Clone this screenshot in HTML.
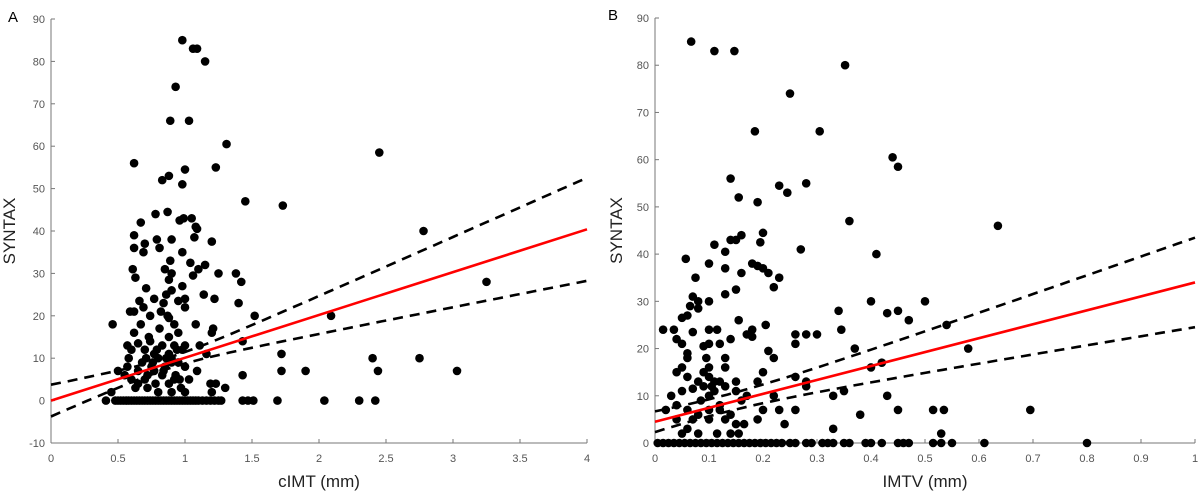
<!DOCTYPE html>
<html><head><meta charset="utf-8"><style>
html,body{margin:0;padding:0;background:#fff;}
svg{display:block;font-family:"Liberation Sans",sans-serif;}
</style></head><body>
<svg id="chart" width="1200" height="494" viewBox="0 0 1200 494" xmlns="http://www.w3.org/2000/svg">
<text x="8" y="22" font-size="15" fill="#000">A</text>
<text x="608" y="20" font-size="15" fill="#000">B</text>
</svg>
<script>
// Panel A data
const aX = [0.98,1.06,1.09,1.15,0.93,0.89,1.03,1.31,2.45,0.62,1.23,1.0,0.88,0.83,0.98,1.45,1.73,0.78,0.87,0.67,0.96,0.99,1.05,1.08,1.09,2.78,0.62,1.07,0.79,1.2,0.7,0.9,0.62,0.81,0.69,0.98,1.04,1.15,0.89,0.61,0.85,0.9,1.1,1.25,1.38,0.63,1.06,0.88,1.42,3.25,0.98,0.71,0.9,0.86,1.14,0.77,0.95,1.22,0.66,0.84,1.0,1.4,0.69,1.0,0.59,0.62,0.82,0.74,1.52,2.09,0.88,0.67,0.46,0.92,1.08,1.21,1.2,0.62,0.88,0.95,1.43,0.73,0.57,0.65,0.83,0.92,1.0,1.11,0.6,0.7,0.77,0.88,0.98,1.72,1.16,0.58,0.8,0.9,2.4,2.75,0.68,0.95,0.57,0.75,0.85,1.0,0.5,0.65,0.77,1.09,1.72,1.9,2.44,3.03,0.55,0.72,0.83,1.43,0.6,0.7,0.92,1.03,0.65,0.78,0.88,1.19,1.23,0.45,0.63,0.72,0.8,0.9,1.0,1.3,1.2,0.74,0.86,0.94,0.76,0.84,0.93,0.97,0.81,0.87,0.71,0.79,0.9,0.96];
const aY = [85,83,83,80,74,66,66,60.5,58.5,56,55,54.5,53,52,51,47,46,44,44.5,42,42.5,43,43,41,40.5,40,39,38.5,38,37.5,37,38,36,36,35,35,32.5,32,33,31,31,30,31,30,30,29,29.5,28.5,28,28,27,26.5,26,25,25,24,23.5,24,23.5,23,24,23,22,22,21,21,21,20,20,20,19.5,18,18,18,18,17,16,16,15,16,14,15,13,13.5,13,13,13,13,12,12,11,11,12,11,11,10,10,10,10,10,9,9,8,8,8,8,7,7,7,7,7,7,7,7,6,6,6,6,5,5,5,5,4,4,4,4,4,2,3,3,2,2,2,3,2,14,10,12,9,7,6,3,17,20,10,12,9,5];
const aZeroX = [0.41,0.48,0.5,0.52,0.54,0.56,0.58,0.6,0.62,0.64,0.66,0.68,0.7,0.72,0.74,0.76,0.78,0.8,0.82,0.84,0.86,0.88,0.9,0.92,0.94,0.96,0.98,1.0,1.02,1.04,1.06,1.08,1.1,1.13,1.16,1.19,1.22,1.25,1.27,1.43,1.47,1.51,1.69,2.04,2.3,2.42];
const aFit = [0, 10.1];      // intercept, slope
const aCI = [1.7, 15.2, 0.9]; // c, d, center
const aXTicks = [0,0.5,1,1.5,2,2.5,3,3.5,4];
const aXTickLabels = ["0","0.5","1","1.5","2","2.5","3","3.5","4"];
const aYTicks = [-10,0,10,20,30,40,50,60,70,80,90];

// Panel B data
const bX = [0.067,0.11,0.147,0.352,0.25,0.185,0.305,0.44,0.45,0.14,0.23,0.28,0.245,0.155,0.19,0.36,0.635,0.16,0.2,0.14,0.15,0.11,0.195,0.13,0.41,0.27,0.057,0.1,0.18,0.19,0.2,0.13,0.075,0.21,0.23,0.16,0.22,0.15,0.13,0.07,0.08,0.1,0.08,0.065,0.06,0.05,0.155,0.34,0.4,0.43,0.45,0.47,0.5,0.54,0.3,0.26,0.28,0.015,0.035,0.07,0.1,0.115,0.14,0.17,0.18,0.205,0.345,0.04,0.05,0.1,0.12,0.18,0.26,0.06,0.09,0.21,0.22,0.37,0.58,0.06,0.095,0.13,0.04,0.05,0.1,0.13,0.2,0.4,0.42,0.06,0.08,0.1,0.12,0.15,0.19,0.26,0.28,0.03,0.05,0.07,0.09,0.11,0.13,0.15,0.17,0.22,0.28,0.33,0.35,0.43,0.02,0.04,0.06,0.08,0.1,0.12,0.14,0.16,0.2,0.23,0.26,0.38,0.45,0.515,0.535,0.695,0.04,0.07,0.1,0.13,0.15,0.19,0.24,0.05,0.08,0.14,0.155,0.06,0.115,0.165,0.33,0.53,0.09,0.11,0.1,0.085,0.12,0.105];
const bY = [85,83,83,80,74,66,66,60.5,58.5,56,54.5,55,53,52,51,47,46,44,44.5,43,43,42,42.5,40.5,40,41,39,38,38,37.5,37,37,35,36,35,36,33,32.5,31.5,31,30,30,28.5,29,27,26.5,26,28,30,27.5,28,26,30,25,23,23,23,24,24,23.5,24,24,22,23,24,25,24,22,21,21,21,22.5,21,19,20.5,19.5,18,20,20,18,18,18,15,16,16,16,15,16,17,14,13,14,13,13,13,14,13,10,11,11.5,12,11,12,11,10,10,12,10,11,10,7,8,7,6,7,7,6,9,7,7,7,6,7,7,7,7,5,5,5,5,4,5,4,2,2,2,2,3,2,4,3,2,15,13,10,9,8,12];
const bZeroX = [0.005,0.015,0.025,0.035,0.045,0.055,0.065,0.075,0.085,0.095,0.105,0.115,0.125,0.135,0.145,0.155,0.165,0.175,0.185,0.195,0.205,0.215,0.225,0.235,0.25,0.26,0.28,0.29,0.31,0.32,0.33,0.35,0.36,0.39,0.4,0.42,0.45,0.46,0.47,0.515,0.53,0.55,0.61,0.8];
const bFit = [4.5, 29.5];
const bCI = [3.2, 112, 0.12];
const bXTicks = [0,0.1,0.2,0.3,0.4,0.5,0.6,0.7,0.8,0.9,1];
const bXTickLabels = ["0","0.1","0.2","0.3","0.4","0.5","0.6","0.7","0.8","0.9","1"];
const bYTicks = [0,10,20,30,40,50,60,70,80,90];

const NS = "http://www.w3.org/2000/svg";
const svg = document.getElementById('chart');
function mk(tag, attrs, parent){
  const e = document.createElementNS(NS, tag);
  for (const k in attrs) e.setAttribute(k, attrs[k]);
  (parent||svg).appendChild(e);
  return e;
}

function panel(p){
  const sx = v => p.x0 + (v - p.xmin) / (p.xmax - p.xmin) * (p.x1 - p.x0);
  const sy = v => p.y0 - (v - p.ymin) / (p.ymax - p.ymin) * (p.y0 - p.y1);
  const g = mk('g', {});
  
  
  // axes
  const ya = mk('line', {x1:p.x0, y1:sy(p.ymin), x2:p.x0, y2:sy(p.ymax), stroke:'#777', 'stroke-width':1}, g);
  
  
  const xa = mk('line', {x1:p.x0, y1:p.xAxisY, x2:p.x1, y2:p.xAxisY, stroke:'#777', 'stroke-width':1}, g);
  
  
  p.yTicks.forEach(v => {
    mk('line', {x1:p.x0, y1:sy(v), x2:p.x0+4, y2:sy(v), stroke:'#777'}, g);
    const t = mk('text', {x:p.x0-6, y:sy(v)+4, 'font-size':11, fill:'#555', 'text-anchor':'end'}, g);
    t.textContent = v;
    
    
  });
  p.xTicks.forEach((v,i) => {
    mk('line', {x1:sx(v), y1:p.xAxisY, x2:sx(v), y2:p.xAxisY-4, stroke:'#777'}, g);
    const t = mk('text', {x:sx(v), y:p.xAxisY+19, 'font-size':11, fill:'#555', 'text-anchor':'middle'}, g);
    t.textContent = p.xLabels[i];
    
    
  });
  const xt = mk('text', {x:(p.x0+p.x1)/2, y:487, 'font-size':17, fill:'#222', 'text-anchor':'middle'}, g);
  xt.textContent = p.xTitle;
  
  
  const yt = mk('text', {x:0, y:0, 'font-size':17, fill:'#222', 'text-anchor':'middle', transform:'translate('+p.yTitleX+','+((sy(p.ymin)+sy(p.ymax))/2)+') rotate(-90)'}, g);
  yt.textContent = 'SYNTAX';
  
  
  // points
  const pts = mk('g', {fill:'#000'}, g);
  
  
  p.xs.forEach((x,i) => {
    const c = mk('circle', {cx:sx(x), cy:sy(p.ys[i]), r:4.3}, pts);
    
    
  });
  p.zeros.forEach(x => {
    const c = mk('circle', {cx:sx(x), cy:sy(0), r:4.3}, pts);
    
    
  });
  // CI bands
  const steps = 60;
  ['upper','lower'].forEach(side => {
    const sgn = side === 'upper' ? 1 : -1;
    let d = '';
    for (let i=0;i<=steps;i++){
      const x = p.xmin + (p.xmax-p.xmin)*i/steps;
      const y = p.fit[0] + p.fit[1]*x + sgn*Math.sqrt(p.ci[0] + p.ci[1]*(x-p.ci[2])*(x-p.ci[2]));
      d += (i?'L':'M') + sx(x).toFixed(1) + ',' + sy(y).toFixed(1);
    }
    const path = mk('path', {d:d, fill:'none', stroke:'#000', 'stroke-width':2.6, 'stroke-dasharray':'10,7'}, g);
    
    
  });
  const fl = mk('line', {x1:sx(p.xmin), y1:sy(p.fit[0]+p.fit[1]*p.xmin), x2:sx(p.xmax), y2:sy(p.fit[0]+p.fit[1]*p.xmax), stroke:'#f00', 'stroke-width':2.6}, g);
  
  
}

panel({name:'panel-a', x0:51, x1:587, y0:443, y1:19, xmin:0, xmax:4, ymin:-10, ymax:90, xAxisY:443,
  xTicks:aXTicks, xLabels:aXTickLabels, yTicks:aYTicks, xs:aX, ys:aY, zeros:aZeroX, fit:aFit, ci:aCI,
  xTitle:'cIMT (mm)', yTitleX:15});
panel({name:'panel-b', x0:655, x1:1195, y0:443, y1:18, xmin:0, xmax:1, ymin:0, ymax:90, xAxisY:443,
  xTicks:bXTicks, xLabels:bXTickLabels, yTicks:bYTicks, xs:bX, ys:bY, zeros:bZeroX, fit:bFit, ci:bCI,
  xTitle:'IMTV (mm)', yTitleX:622});
</script>
</body></html>
